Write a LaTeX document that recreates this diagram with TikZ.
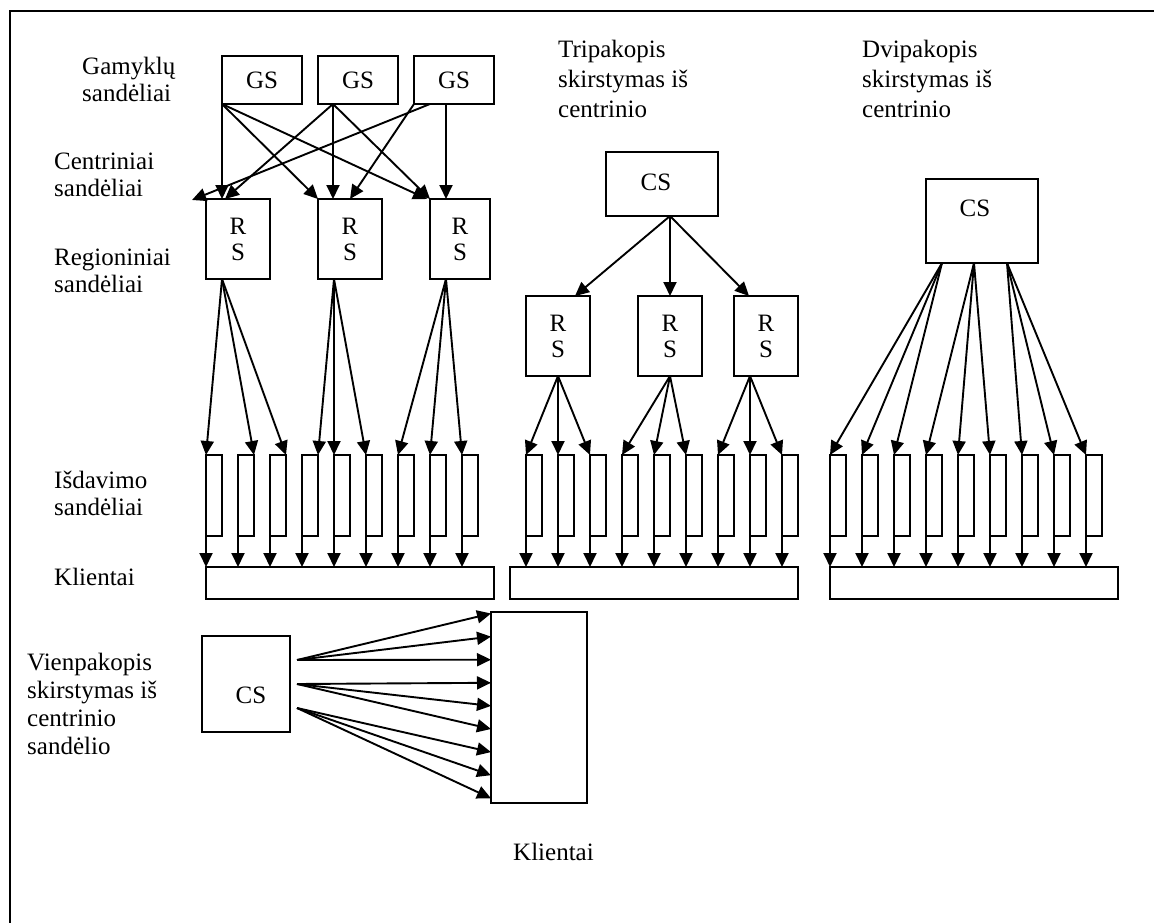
\documentclass[tikz,border=0pt]{standalone}
\usepackage{fontspec}
\setmainfont{Liberation Serif}
\usetikzlibrary{arrows.meta,calc}
\begin{document}
\begin{tikzpicture}[x=1pt,y=-1pt,
  box/.style={draw, line width=1.9pt, inner sep=0pt, outer sep=0pt, anchor=north west},
  lbl/.style={font=\fontsize{25}{27}\selectfont, inner sep=0pt, anchor=base west},
  ttl/.style={font=\fontsize{25}{30}\selectfont, inner sep=0pt, anchor=base west},
  boxtxt/.style={font=\fontsize{25}{26}\selectfont, inner sep=0pt, align=center},
  arr/.style={line width=1.9pt, -{Triangle[length=14pt,width=13pt]}},
]
\useasboundingbox (0,0) rectangle (1154,923);
% outer frame (top and left edges)
\draw[line width=2.4pt] (1154,11) -- (10,11) -- (10,923);

% ---- level labels ----
\node[lbl] (tGam) at (82,75) {\vtop{\hbox{Gamyklų}\hbox{sandėliai}}};
\node[lbl] (tCen) at (54,169) {\vtop{\hbox{Centriniai}\hbox{sandėliai}}};
\node[lbl] (tReg) at (54,265) {\vtop{\hbox{Regioniniai}\hbox{sandėliai}}};
\node[lbl] (tIsd) at (54,488) {\vtop{\hbox{Išdavimo}\hbox{sandėliai}}};
\node[lbl] (tKli) at (54,585) {Klientai};
\node[ttl] (tTri) at (558,58) {\vtop{\hbox{Tripakopis}\hbox{skirstymas iš}\hbox{centrinio}}};
\node[ttl] (tDvi) at (862,58) {\vtop{\hbox{Dvipakopis}\hbox{skirstymas iš}\hbox{centrinio}}};
\node[lbl] (tVie) at (27,670) {\vtop{\baselineskip=28pt\hbox{Vienpakopis}\hbox{skirstymas iš}\hbox{centrinio}\hbox{sandėlio}}};
\node[lbl] (tKl2) at (513,860) {Klientai};

% ---- multi-level network ----
\foreach \i/\x in {1/222,2/318,3/414}
  \node[box, minimum width=80pt, minimum height=48pt] (gs\i) at (\x,56) {};
\foreach \i in {1,2,3}
  \node[boxtxt] (gst\i) at (gs\i.center) {GS};
\node[box, minimum width=64pt, minimum height=80pt] (rs1) at (206,199) {};
\node[box, minimum width=64pt, minimum height=80pt] (rs2) at (318,199) {};
\node[box, minimum width=60pt, minimum height=80pt] (rs3) at (430,199) {};
\foreach \i in {1,2,3}
  \node[boxtxt] (rst\i) at (rs\i.center) {R\\S};
\foreach \k in {1,...,9}
  \node[box, minimum width=16pt, minimum height=81pt] (a\k) at ({206+32*(\k-1)},455) {};
\node[box, minimum width=288pt, minimum height=32pt] (barA) at (206,567) {};

\draw[arr] (gs1.south west) -- ($(rs1.north west)+(16,0)$);
\draw[arr] (gs1.south west) -- (rs2.north west);
\draw[arr] (gs1.south west) -- ($(rs3.north west)+(-3,0)$);
\draw[arr] ($(gs2.south west)+(15,0)$) -- ($(rs1.north west)+(19,0)$);
\draw[arr] ($(gs2.south west)+(15,0)$) -- ($(rs2.north west)+(15,0)$);
\draw[arr] ($(gs2.south west)+(15,0)$) -- (rs3.north west);
\coordinate (cfree) at ($(rs1.north west)+(-14,1)$);
\draw[arr] ($(gs3.south west)+(16,0)$) -- (cfree);
\draw[arr] (gs3.south west) -- (rs2.north);
\draw[arr] ($(gs3.south west)+(32,0)$) -- ($(rs3.north west)+(16,0)$);

\coordinate (pa1) at ($(rs1.south west)+(16,0)$);
\coordinate (pa2) at ($(rs2.south west)+(16,0)$);
\coordinate (pa3) at ($(rs3.south west)+(16,0)$);
\draw[arr] (pa1) -- (a1.north west);
\draw[arr] (pa1) -- (a2.north east);
\draw[arr] (pa1) -- (a3.north east);
\draw[arr] (pa2) -- (a4.north east);
\draw[arr] (pa2) -- (a5.north west);
\draw[arr] (pa2) -- (a6.north west);
\draw[arr] (pa3) -- (a7.north west);
\draw[arr] (pa3) -- (a8.north west);
\draw[arr] (pa3) -- (a9.north west);
\foreach \k in {1,...,9}
  \draw[arr] (a\k.south west) -- (a\k.south west |- barA.north);

% ---- three-level distribution ----
\node[box, minimum width=112pt, minimum height=64pt] (csB) at (606,152) {};
\node[boxtxt] (csBt) at (656,182) {CS};
\foreach \i/\x in {1/526,2/638,3/734}
  \node[box, minimum width=64pt, minimum height=80pt] (rsB\i) at (\x,296) {};
\foreach \i in {1,2,3}
  \node[boxtxt] (rsBt\i) at (rsB\i.center) {R\\S};
\foreach \k in {1,...,9}
  \node[box, minimum width=16pt, minimum height=81pt] (b\k) at ({526+32*(\k-1)},455) {};
\node[box, minimum width=288pt, minimum height=32pt] (barB) at (510,567) {};

\coordinate (pb0) at ($(csB.south west)+(64,0)$);
\draw[arr] (pb0) -- ($(rsB1.north west)+(49,0)$);
\draw[arr] (pb0) -- (rsB2.north);
\draw[arr] (pb0) -- ($(rsB3.north west)+(15,0)$);
\coordinate (pb1) at (rsB1.south);
\coordinate (pb2) at (rsB2.south);
\coordinate (pb3) at ($(rsB3.south west)+(16,0)$);
\foreach \k in {1,2,3} \draw[arr] (pb1) -- (b\k.north west);
\foreach \k in {4,5,6} \draw[arr] (pb2) -- (b\k.north west);
\foreach \k in {7,8,9} \draw[arr] (pb3) -- (b\k.north west);
\foreach \k in {1,...,9}
  \draw[arr] (b\k.south west) -- (b\k.south west |- barB.north);

% ---- two-level distribution ----
\node[box, minimum width=112pt, minimum height=84pt] (csC) at (926,179) {};
\node[boxtxt] (csCt) at (975,208) {CS};
\foreach \k in {1,...,9}
  \node[box, minimum width=16pt, minimum height=81pt] (c\k) at ({830+32*(\k-1)},455) {};
\node[box, minimum width=288pt, minimum height=32pt] (barC) at (830,567) {};
\coordinate (pc1) at ($(csC.south west)+(16,0)$);
\coordinate (pc2) at ($(csC.south west)+(48,0)$);
\coordinate (pc3) at ($(csC.south west)+(81,0)$);
\foreach \k in {1,2,3} \draw[arr] (pc1) -- (c\k.north west);
\foreach \k in {4,5,6} \draw[arr] (pc2) -- (c\k.north west);
\foreach \k in {7,8,9} \draw[arr] (pc3) -- (c\k.north west);
\foreach \k in {1,...,9}
  \draw[arr] (c\k.south west) -- (c\k.south west |- barC.north);

% ---- single-level distribution ----
\node[box, minimum width=88pt, minimum height=96pt] (csD) at (202,636) {};
\node[boxtxt] (csDt) at (251,695) {CS};
\node[box, minimum width=96pt, minimum height=191pt] (kD) at (491,612) {};
\coordinate (pd1) at ($(csD.north east)+(7,24)$);
\coordinate (pd2) at ($(csD.north east)+(7,48)$);
\coordinate (pd3) at ($(csD.north east)+(7,72)$);
\foreach \k in {0,1,2} \draw[arr] (pd1) -- ($(kD.north west)+(0,{1.5+23.1*\k})$);
\foreach \k in {3,4,5} \draw[arr] (pd2) -- ($(kD.north west)+(0,{1.5+23.1*\k})$);
\foreach \k in {6,7,8} \draw[arr] (pd3) -- ($(kD.north west)+(0,{1.5+23.1*\k})$);
\end{tikzpicture}
\end{document}
